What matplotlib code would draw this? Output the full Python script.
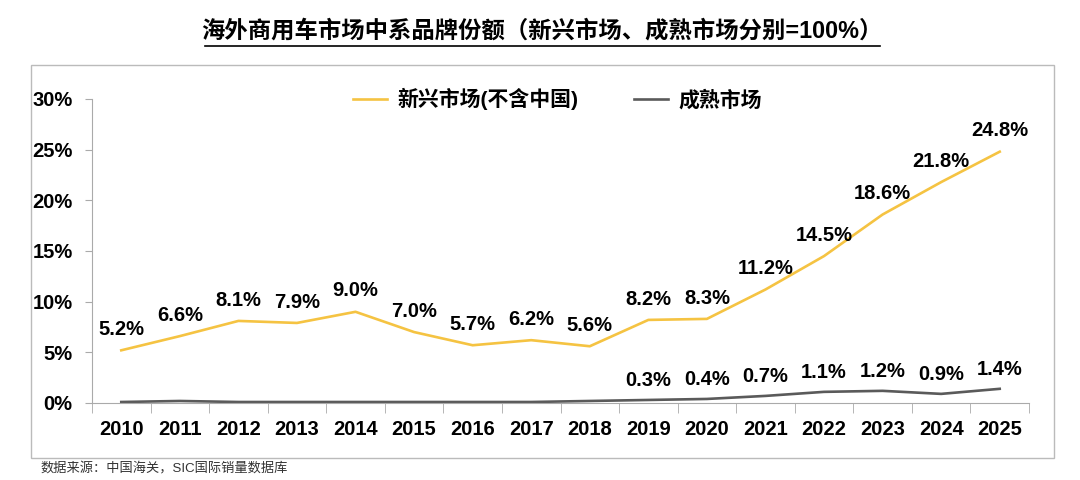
import matplotlib
matplotlib.use("Agg")
import matplotlib.pyplot as plt
from matplotlib.lines import Line2D
from matplotlib.patches import Rectangle

plt.rcParams['font.family'] = ['Liberation Sans', 'Noto Sans CJK SC', 'DejaVu Sans']

# data
years = ['2010', '2011', '2012', '2013', '2014', '2015', '2016', '2017',
         '2018', '2019', '2020', '2021', '2022', '2023', '2024', '2025']
emerging = [5.2, 6.6, 8.1, 7.9, 9.0, 7.0, 5.7, 6.2, 5.6, 8.2, 8.3, 11.2, 14.5, 18.6, 21.8, 24.8]
mature = [0.1, 0.2, 0.1, 0.1, 0.1, 0.1, 0.1, 0.1, 0.2, 0.3, 0.4, 0.7, 1.1, 1.2, 0.9, 1.4]
mature_labeled_from = 9  # labels shown from 2019 on
yticks = [0, 5, 10, 15, 20, 25, 30]

title = '海外商用车市场中系品牌份额（新兴市场、成熟市场分别=100%）'
source = '数据来源：中国海关，SIC国际销量数据库'

yellow = '#F5C342'
grey = '#5A5A5A'
fs = 14.5

fig = plt.figure(figsize=(10.8, 4.8), dpi=100)
ax = fig.add_axes([92 / 1080, 1 - 403 / 480, (1029 - 92) / 1080, (403 - 99) / 480])

x = list(range(len(years)))
ax.plot(x, emerging, color=yellow, lw=1.9, label='新兴市场(不含中国)')
ax.plot(x, mature, color=grey, lw=1.9, label='成熟市场')

for i, v in enumerate(emerging):
    ax.annotate(f'{v:.1f}%', (i, v), xytext=(0, 15), textcoords='offset points',
                ha='center', va='center', fontsize=fs, fontweight='bold')
for i, v in enumerate(mature):
    if i >= mature_labeled_from:
        ax.annotate(f'{v:.1f}%', (i, v), xytext=(0, 14), textcoords='offset points',
                    ha='center', va='center', fontsize=fs, fontweight='bold')

ax.set_xlim(-0.5, len(years) - 0.5)
ax.set_ylim(0, 30)
ax.set_yticks(yticks)
ax.set_yticklabels([f'{t}%' for t in yticks], fontsize=fs, fontweight='bold')
ax.set_xticks(x)
ax.set_xticklabels(years, fontsize=fs, fontweight='bold')
ax.tick_params(axis='x', length=0, pad=12)
ax.tick_params(axis='y', length=5, color='#AAAAAA', pad=9)
# category boundary ticks on the x axis
ax.set_xticks([i - 0.5 for i in range(len(years) + 1)], minor=True)
ax.tick_params(axis='x', which='minor', length=7, color='#AAAAAA')

for s in ['top', 'right']:
    ax.spines[s].set_visible(False)
ax.spines['left'].set_color('#AAAAAA')
ax.spines['bottom'].set_color('#AAAAAA')

leg = ax.legend(loc='center left', bbox_to_anchor=(0.259, 1.0), ncol=2, frameon=False,
                handlelength=1.6, handletextpad=0.5, columnspacing=2.7,
                prop={'size': 15, 'weight': 'bold'})

# outer frame
fig.patches.append(Rectangle((31 / 1080, 1 - 458 / 480), (1054 - 31) / 1080, (458 - 65) / 480,
                             transform=fig.transFigure, fill=False, edgecolor='#BBBBBB', lw=1))

fig.text(542 / 1080, 1 - 31 / 480, title, ha='center', va='center', fontsize=16.8, fontweight='bold')
fig.add_artist(Line2D([205 / 1080, 880 / 1080], [1 - 46 / 480, 1 - 46 / 480],
                      color='black', lw=1.2, transform=fig.transFigure))
fig.text(40 / 1080, 1 - 469 / 480, source, ha='left', va='center', fontsize=9.5, color='#333333')

fig.savefig('out.png', dpi=100)
